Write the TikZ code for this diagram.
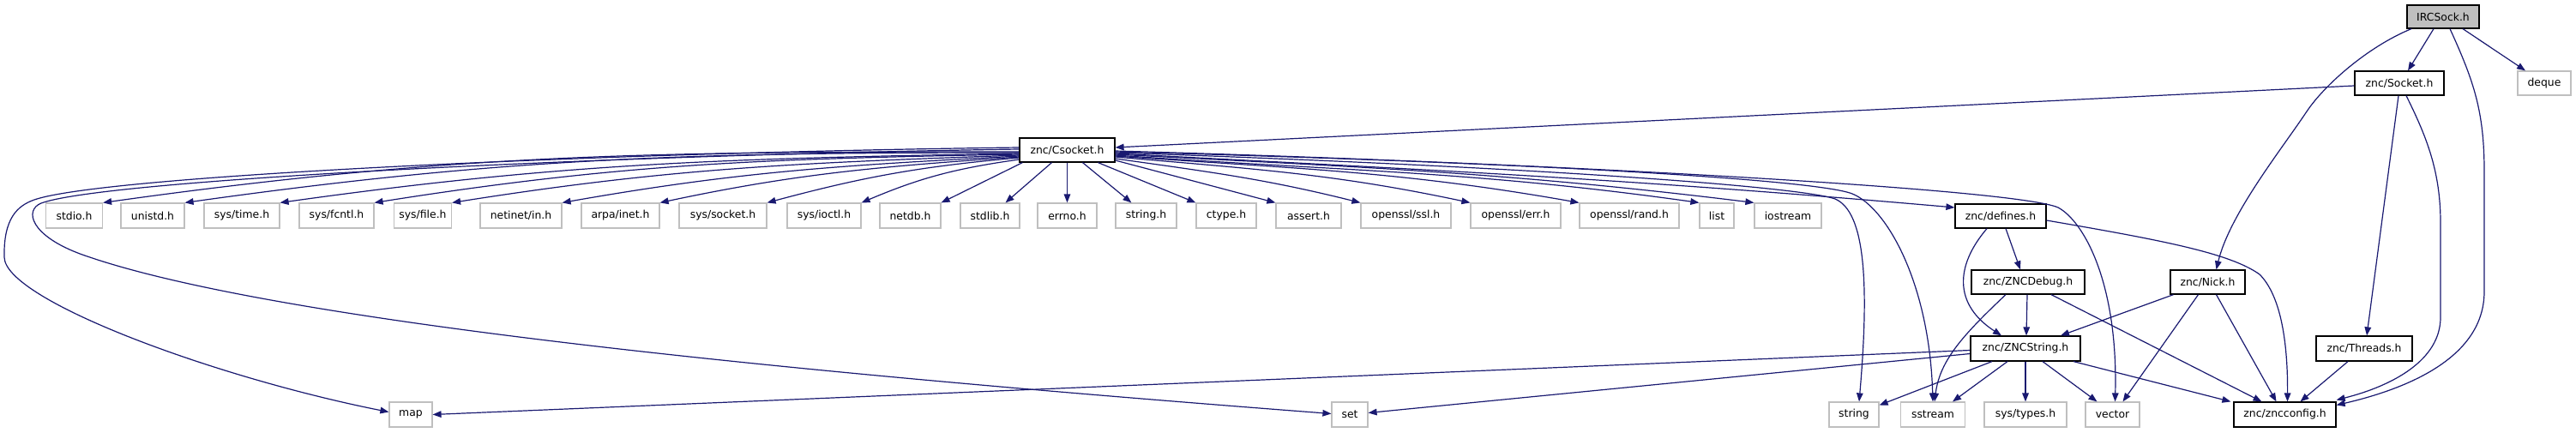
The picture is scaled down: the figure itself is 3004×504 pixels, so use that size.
\documentclass[tikz,border=0pt]{standalone}
\usepackage{fontspec}
\setmainfont{DejaVu Sans}
\usetikzlibrary{arrows.meta,calc}
\definecolor{edgec}{HTML}{191970}
\definecolor{extb}{HTML}{BFBFBF}
\begin{document}
\begin{tikzpicture}[x=0.5pt,y=-0.5pt,
 box/.style={draw=black, line width=0.6pt, inner sep=0pt, minimum height=14pt, font=\fontsize{6.2}{7.4}\selectfont, text=black},
 ext/.style={box, draw=extb},
 root/.style={box, fill=extb},
 dep/.style={draw=edgec, line width=0.6pt, -{Triangle[length=5pt,width=3.8pt]}}
]
\useasboundingbox (0,0) rectangle (3004,504);
% row 0-2
\node[root, minimum width=42pt, minimum height=13.5pt] (irc) at (2849,19.5) {IRCSock.h};
\node[box, minimum width=52pt] (socket) at (2798,97) {znc/Socket.h};
\node[ext, minimum width=31pt] (deque) at (2967,97) {deque};
\node[box, minimum width=55.5pt] (csock) at (1244.5,175) {znc/Csocket.h};
% row 3
\node[ext, minimum width=33pt, minimum height=14.5pt] (stdio) at (86.5,251.5) {stdio.h};
\node[ext, minimum width=37pt, minimum height=14.5pt] (unistd) at (178,251.5) {unistd.h};
\node[ext, minimum width=44pt, minimum height=14.5pt] (systime) at (282,251.5) {sys/time.h};
\node[ext, minimum width=43.5pt, minimum height=14.5pt] (sysfcntl) at (392.5,251.5) {sys/fcntl.h};
\node[ext, minimum width=33.5pt, minimum height=14.5pt] (sysfile) at (493,251.5) {sys/file.h};
\node[ext, minimum width=47.5pt, minimum height=14.5pt] (netinet) at (607.5,251.5) {netinet/in.h};
\node[ext, minimum width=45.5pt, minimum height=14.5pt] (arpa) at (723.5,251.5) {arpa/inet.h};
\node[ext, minimum width=51pt, minimum height=14.5pt] (syssock) at (843,251.5) {sys/socket.h};
\node[ext, minimum width=43pt, minimum height=14.5pt] (sysioctl) at (961,251.5) {sys/ioctl.h};
\node[ext, minimum width=35.5pt, minimum height=14.5pt] (netdb) at (1061.5,251.5) {netdb.h};
\node[ext, minimum width=34.5pt, minimum height=14.5pt] (stdlib) at (1154.5,251.5) {stdlib.h};
\node[ext, minimum width=34.5pt, minimum height=14.5pt] (errno) at (1244.5,251.5) {errno.h};
\node[ext, minimum width=35.5pt, minimum height=14.5pt] (stringh) at (1336.5,251.5) {string.h};
\node[ext, minimum width=35pt, minimum height=14.5pt] (ctype) at (1430,251.5) {ctype.h};
\node[ext, minimum width=38pt, minimum height=14.5pt] (assert) at (1526,251.5) {assert.h};
\node[ext, minimum width=52.5pt, minimum height=14.5pt] (ssl) at (1639.5,251.5) {openssl/ssl.h};
\node[ext, minimum width=52.5pt, minimum height=14.5pt] (err) at (1767.5,251.5) {openssl/err.h};
\node[ext, minimum width=58pt, minimum height=14.5pt] (rand) at (1900,251.5) {openssl/rand.h};
\node[ext, minimum width=20pt, minimum height=14.5pt] (list) at (2002,251.5) {list};
\node[ext, minimum width=39pt, minimum height=14.5pt] (iostream) at (2085,251.5) {iostream};
\node[box, minimum width=53pt] (defines) at (2333,252) {znc/defines.h};
% row 4-5
\node[box, minimum width=66pt] (zdebug) at (2365,329) {znc/ZNCDebug.h};
\node[box, minimum width=43.5pt] (nick) at (2574.5,329) {znc/Nick.h};
\node[box, minimum width=64pt, minimum height=14.5pt] (zstring) at (2362,406.5) {znc/ZNCString.h};
\node[box, minimum width=56pt, minimum height=14.5pt] (threads) at (2757,406.5) {znc/Threads.h};
% row 6
\node[ext, minimum width=25pt, minimum height=14.5pt] (map) at (479,483.5) {map};
\node[ext, minimum width=21pt, minimum height=14.5pt] (set) at (1574,483.5) {set};
\node[ext, minimum width=29pt, minimum height=14.5pt] (string) at (2162,483.5) {string};
\node[ext, minimum width=37.5pt, minimum height=14.5pt] (sstream) at (2254,483.5) {sstream};
\node[ext, minimum width=48pt, minimum height=14.5pt] (systypes) at (2362,483.5) {sys/types.h};
\node[ext, minimum width=31.5pt, minimum height=14.5pt] (vector) at (2463.5,483.5) {vector};
\node[box, minimum width=59.5pt, minimum height=14.5pt] (zncconfig) at (2664.5,483.5) {znc/zncconfig.h};

% IRCSock edges
\draw[dep] ($(irc.south)+(-11,0)$) -- ($(socket.north)+(10,0)$);
\draw[dep] ($(irc.south)+(23,0)$) -- ($(deque.north)+(-22,0)$);
\draw[dep] ($(irc.south)+(-37,0)$) .. controls (2760,55) and (2710,100) .. (2690,130) .. controls (2660,175) and (2600,250) .. ($(nick.north)+(10,0)$);
\draw[dep] ($(irc.south)+(8,0)$) .. controls (2885,95) and (2897,130) .. (2897,200) -- (2897,340) .. controls (2897,420) and (2800,455) .. ($(zncconfig.east)+(0,-11)$);
% Socket edges
\draw[dep] ($(socket.west)+(0,3)$) -- ($(csock.east)+(0,-3)$);
\draw[dep] ($(socket.south)+(-1,0)$) -- ($(threads.north)+(3,0)$);
\draw[dep] ($(socket.south)+(8,0)$) .. controls (2830,160) and (2846,200) .. (2846,260) -- (2846,370) .. controls (2846,420) and (2790,450) .. ($(zncconfig.east)+(0,-17)$);
% Csocket to far left
\draw[dep] ($(csock.west)+(0,-3)$) .. controls (700,178) and (120,205) .. (40,233) .. controls (20,240) and (4,255) .. (5,300) .. controls (6,350) and (250,440) .. ($(map.west)+(0,-3)$);
\draw[dep] ($(csock.west)+(0,-1)$) .. controls (700,181) and (120,210) .. (48,237) .. controls (28,245) and (35,275) .. (96,297) .. controls (330,380) and (1000,440) .. ($(set.west)+(0,-1)$);
\draw[dep] ($(csock.west)+(0,2)$) to[out=180,in=8] (stdio.north east);
\draw[dep] ($(csock.west)+(0,3)$) to[out=180,in=8] (unistd.north east);
\draw[dep] ($(csock.west)+(0,4)$) to[out=181,in=8] (systime.north east);
\draw[dep] ($(csock.west)+(0,5)$) to[out=181,in=9] (sysfcntl.north east);
\draw[dep] ($(csock.west)+(0,6)$) to[out=182,in=9] (sysfile.north east);
\draw[dep] ($(csock.west)+(0,7)$) to[out=183,in=10] (netinet.north east);
\draw[dep] ($(csock.west)+(0,8)$) to[out=184,in=12] (arpa.north east);
\draw[dep] ($(csock.west)+(0,9)$) to[out=185,in=15] (syssock.north east);
\draw[dep] ($(csock.west)+(0,11)$) to[out=188,in=23] (sysioctl.north east);
\draw[dep] ($(csock.south west)+(4,0)$) -- (netdb.north east);
\draw[dep] ($(csock.south)+(-18,0)$) -- ($(stdlib.north)+(18,0)$);
\draw[dep] (csock.south) -- (errno.north);
\draw[dep] ($(csock.south)+(18,0)$) -- ($(stringh.north west)+(19,0)$);
\draw[dep] ($(csock.south)+(36,0)$) -- (ctype.north west);
% Csocket to right
\draw[dep] ($(csock.east)+(0,12)$) -- (assert.north west);
\draw[dep] ($(csock.east)+(0,10)$) to[out=-8,in=166] (ssl.north west);
\draw[dep] ($(csock.east)+(0,8)$) to[out=-5,in=168] (err.north west);
\draw[dep] ($(csock.east)+(0,7)$) to[out=-4,in=170] (rand.north west);
\draw[dep] ($(csock.east)+(0,6)$) to[out=-4,in=172] (list.north west);
\draw[dep] ($(csock.east)+(0,5)$) to[out=-3,in=173] (iostream.north west);
\draw[dep] ($(csock.east)+(0,4)$) to[out=-3,in=175] ($(defines.west)+(0,-10)$);
\draw[dep] ($(csock.east)+(0,3)$) .. controls (1800,195) and (2100,218) .. (2140,232) .. controls (2175,247) and (2180,330) .. ($(string.north)+(6,0)$);
\draw[dep] ($(csock.east)+(0,2)$) .. controls (1800,190) and (2120,210) .. (2160,226) .. controls (2200,242) and (2250,330) .. (sstream.north);
\draw[dep] ($(csock.east)+(0,1)$) .. controls (1800,190) and (2350,220) .. (2400,242) .. controls (2430,258) and (2470,330) .. ($(vector.north)+(3,0)$);
% defines
\draw[dep] ($(defines.south)+(6,0)$) -- ($(zdebug.north)+(-9,0)$);
\draw[dep] ($(defines.south)+(-16,0)$) .. controls (2280,310) and (2278,355) .. ($(zstring.north)+(-28,0)$);
\draw[dep] ($(defines.east)+(0,5)$) .. controls (2520,280) and (2600,295) .. (2635,320) .. controls (2660,345) and (2668,400) .. ($(zncconfig.north)+(3,0)$);
% ZNCDebug
\draw[dep] ($(zdebug.south)+(-1,0)$) -- ($(zstring.north)+(1,0)$);
\draw[dep] ($(zdebug.south)+(-26,0)$) .. controls (2290,390) and (2262,420) .. ($(sstream.north)+(2,0)$);
\draw[dep] ($(zdebug.south)+(27,0)$) -- ($(zncconfig.north)+(-27,0)$);
% Nick
\draw[dep] ($(nick.south)+(-40,0)$) -- ($(zstring.north)+(41,0)$);
\draw[dep] ($(nick.south)+(-11,0)$) -- ($(vector.north)+(12,0)$);
\draw[dep] ($(nick.south)+(10,0)$) -- ($(zncconfig.north)+(-10,0)$);
% ZNCString
\draw[dep] ($(zstring.west)+(0,2)$) -- ($(map.east)+(0,0)$);
\draw[dep] ($(zstring.west)+(0,6)$) -- ($(set.east)+(0,-2)$);
\draw[dep] ($(zstring.south)+(-39,0)$) -- ($(string.east)+(0,-11)$);
\draw[dep] ($(zstring.south)+(-21,0)$) -- ($(sstream.north)+(23,0)$);
\draw[dep] (zstring.south) -- (systypes.north);
\draw[dep] ($(zstring.south)+(20,0)$) -- ($(vector.north)+(-18,0)$);
\draw[dep] ($(zstring.south)+(56,0)$) -- ($(zncconfig.north west)+(-3,0)$);
% Threads
\draw[dep] ($(threads.south)+(-19,0)$) -- ($(zncconfig.north)+(18,0)$);
\end{tikzpicture}
\end{document}
